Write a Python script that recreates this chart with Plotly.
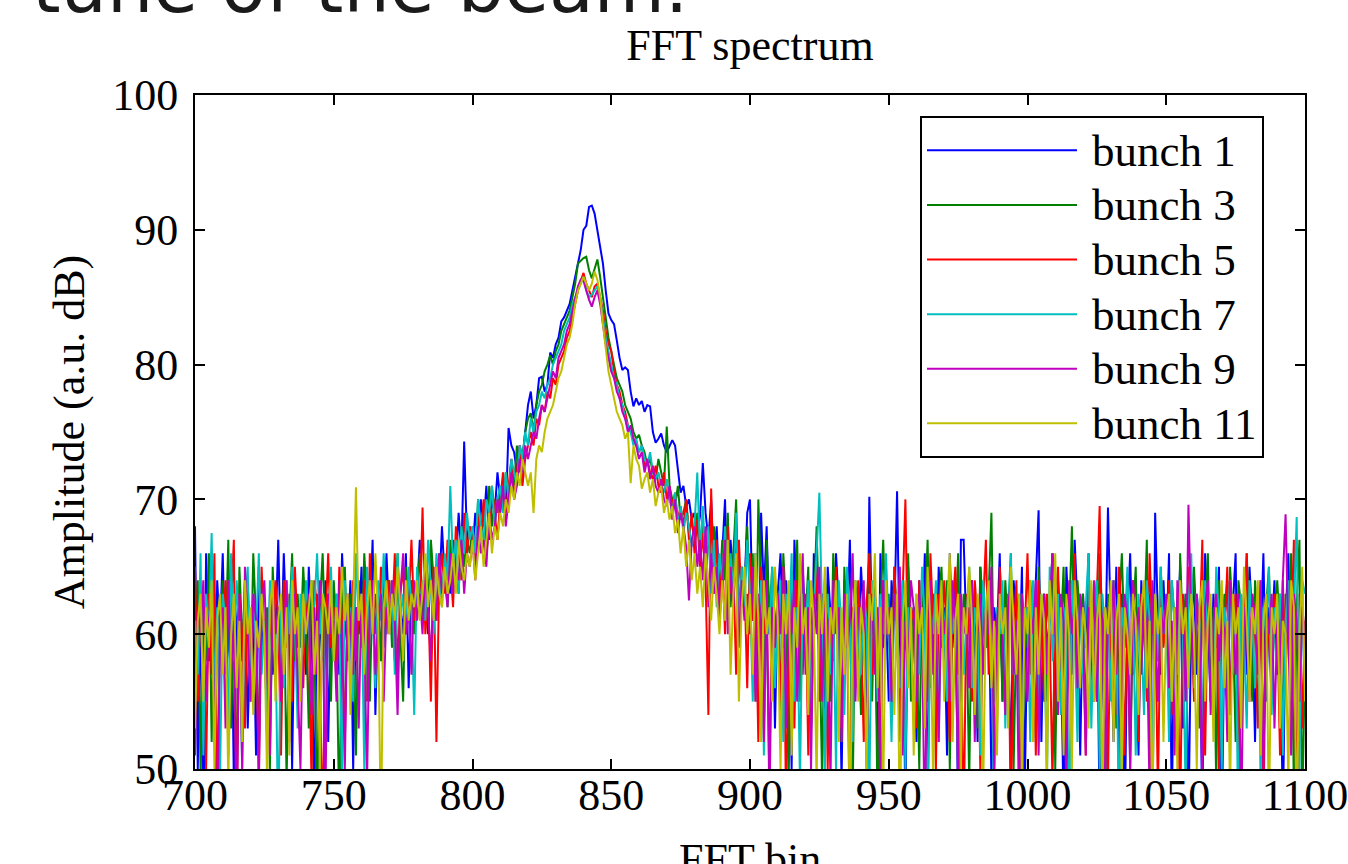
import plotly.graph_objects as go

BINS = list(range(700, 1101))
SERIES_NAMES = ["bunch 1", "bunch 3", "bunch 5", "bunch 7", "bunch 9", "bunch 11"]
COLORS = ["#0000ff", "#008000", "#ff0000", "#00bfbf", "#bf00bf", "#bfbf00"]
X_TICKS = [700, 750, 800, 850, 900, 950, 1000, 1050, 1100]
Y_TICKS = [50, 60, 70, 80, 90, 100]

BUNCH_1 = [
    68, 50, 62, 45, 66, 58, 63, 52, 64, 60,
    66, 57, 59, 65, 49, 61, 63, 58, 64, 53,
    60, 62, 51, 65, 59, 61, 52, 63, 57, 60,
    67, 58, 66, 60, 62, 50, 64, 59, 61, 63,
    57, 65, 60, 47, 63, 61, 58, 64, 52, 62,
    60, 63, 57, 66, 61, 59, 64, 50, 62, 60,
    65, 58, 63, 61, 67, 54, 62, 64, 59, 66,
    61, 63, 58, 65, 62, 60, 66, 56, 64, 62,
    63, 67, 61, 64, 60, 66, 62, 65, 63, 68,
    64, 66, 63, 67, 65, 69, 66, 74.3, 67, 68,
    66, 69, 67, 70, 68, 71, 67, 70, 69, 72,
    70, 71, 69, 75.3, 74, 73.5, 72, 74, 73, 75,
    77, 78, 76, 77, 79, 79.1, 78, 78.5, 80.9, 80.5,
    81.5, 82, 83.2, 83.5, 84, 84.5, 85.5, 86.5, 87.5, 88.5,
    90, 90.3, 91.7, 91.8, 91.2, 90, 88.5, 87.5, 85.5, 83.8,
    83.3, 83, 81.8, 80.5, 79.6, 79.8, 79.6, 78, 76.9, 77.5,
    77, 77.3, 76.5, 77, 76.9, 75, 74.2, 74.5, 74.9, 74,
    73.5, 74, 74.4, 74, 72, 70.5, 71, 69.5, 70, 68.5,
    69, 67.5, 68.8, 72.7, 69, 67, 70, 65, 68, 63,
    66, 70, 62, 67, 64, 68, 60, 65, 63, 69,
    70, 61, 66, 55, 69, 63, 68, 60, 64, 53,
    63, 66, 59, 64, 61, 50, 67, 62, 56, 65,
    60, 64, 53, 66, 62, 59, 63, 51, 65, 61,
    58, 66, 62, 49, 64, 60, 67, 55, 63, 59,
    65, 61, 52, 70.2, 60, 63, 50, 66, 59, 62,
    55, 64, 61, 70.6, 58, 63, 47, 65, 60, 62,
    52, 64, 59, 66, 48, 61, 63, 56, 65, 60,
    62, 51, 66, 59, 64, 46, 67, 67, 60, 62,
    57, 63, 52, 65, 61, 59, 64, 49, 62, 60,
    66, 55, 63, 60, 50, 64, 61, 57, 65, 48,
    62, 60, 56, 64, 69.2, 52, 63, 59, 61, 66,
    55, 64, 60, 47, 65, 61, 57, 67, 62, 51,
    63, 59, 66, 55, 61, 64, 46, 62, 58, 69.4,
    60, 52, 65, 48, 63, 45, 61, 66, 57, 62,
    51, 64, 60, 56, 63, 45, 69, 61, 57, 64,
    59, 66, 47, 62, 60, 65, 53, 63, 46, 61,
    64, 57, 62, 46, 66, 60, 55, 63, 59, 65,
    45, 61, 64, 54, 62, 66, 50, 60, 63, 57,
    65, 61, 52, 63, 59, 66, 55, 62, 60, 64,
    57, 63, 46, 61, 66, 52, 62, 45, 60, 63,
    55,
]

BUNCH_3 = [
    60, 64, 50, 62, 58, 66, 52, 63, 47, 61,
    64, 59, 67, 53, 62, 48, 65, 60, 58, 63,
    56, 66, 61, 51, 64, 59, 62, 50, 65, 60,
    62, 57, 64, 49, 61, 66, 58, 63, 59, 65,
    61, 53, 64, 60, 46, 62, 66, 59, 63, 55,
    64, 60, 46, 62, 65, 58, 63, 61, 51, 64,
    59, 66, 62, 55, 64, 60, 63, 58, 65, 61,
    64, 59, 62, 66, 60, 55, 65, 62, 64, 60,
    63, 66, 61, 65, 62, 67, 64, 61, 66, 63,
    65, 62, 67, 64, 66, 63, 68, 65, 67, 66,
    68, 65, 70, 67, 69, 66, 71, 68, 70, 69,
    71, 69, 72, 70, 73, 71, 74, 72, 73, 75,
    76, 76.4, 75, 77, 78, 78.5, 79.5, 80, 80.7, 80,
    81, 81.5, 82.5, 83, 83.5, 84, 85, 86, 87.5, 87.7,
    87.9, 88, 87, 86.4, 87.2, 87.8, 86.5, 85, 83.5, 82,
    81, 80, 79, 78.5, 78, 77, 76.5, 76, 75, 74.5,
    74.8, 74, 73.5, 72.5, 73, 72, 71.5, 73, 72, 71,
    75.4, 71, 70, 69.5, 71, 68.5, 69, 70, 67.5, 68.5,
    67, 69, 66, 68, 65, 67.5, 64, 68, 66, 63,
    67, 64, 69, 62, 66, 70, 61, 65, 63, 68,
    62, 66, 55, 70, 64, 53, 67, 61, 65, 60,
    63, 54, 66, 62, 50, 64, 60, 67, 55, 63,
    61, 65, 53, 62, 68, 60, 49, 64, 62, 55,
    66, 61, 63, 52, 65, 59, 62, 48, 64, 60,
    54, 63, 61, 66, 55, 64, 46, 62, 67, 60,
    63, 56, 65, 61, 52, 64, 60, 66, 55, 62,
    60, 50, 64, 61, 67, 56, 63, 52, 62, 65,
    59, 64, 50, 62, 60, 66, 55, 63, 61, 49,
    64, 60, 53, 65, 62, 59, 63, 69, 55, 61,
    62, 55, 64, 60, 66, 50, 61, 63, 46, 62,
    59, 64, 61, 52, 65, 60, 63, 55, 62, 66,
    50, 63, 60, 65, 54, 62, 68, 59, 64, 61,
    63, 53, 65, 60, 62, 55, 66, 61, 46, 63,
    60, 64, 53, 62, 66, 59, 63, 50, 61, 65,
    55, 62, 60, 67, 51, 63, 61, 58, 65, 60,
    62, 55, 64, 61, 52, 66, 60, 63, 56, 62,
    65, 60, 53, 63, 61, 66, 55, 62, 49, 64,
    60, 63, 54, 65, 61, 52, 64, 62, 58, 66,
    61, 55, 64, 60, 63, 50, 62, 65, 57, 61,
    64, 60, 53, 63, 61, 66, 48, 62, 67, 47,
    58,
]

BUNCH_5 = [
    65, 55, 62, 60, 50, 63, 57, 66, 45, 61,
    59, 64, 51, 62, 67, 45, 63, 60, 53, 64,
    58, 63, 61, 49, 65, 60, 54, 62, 59, 64,
    61, 51, 64, 59, 63, 55, 65, 60, 62, 56,
    63, 60, 49, 64, 62, 57, 45, 61, 66, 59,
    62, 56, 65, 61, 52, 63, 60, 64, 58, 62,
    60, 64, 55, 66, 61, 63, 59, 65, 62, 60,
    64, 61, 66, 57, 63, 65, 60, 62, 67, 61,
    64, 62, 69.4, 60, 63, 55, 65, 52, 64, 66,
    63, 67, 65, 62, 68, 66, 64, 69, 66, 68,
    67, 65, 69, 67, 70, 66, 68, 71, 69, 67,
    70, 72, 69, 71, 73, 70, 72, 74, 71, 73,
    74, 75, 74, 76, 75.5, 77, 76.5, 78, 77.5, 79,
    78.5, 80, 80.5, 81, 82, 82.5, 83.5, 84.5, 85.5, 86.2,
    86.8, 86, 85.5, 85, 85.8, 86, 85, 84, 82.5, 81.5,
    81, 79.5, 78.5, 78, 77, 76.5, 75.5, 75, 74.5, 74,
    73.5, 74, 72.5, 73, 72, 71.5, 72.5, 71, 70.5, 72,
    70, 71, 69.5, 70.5, 68.5, 69.5, 68, 70, 67, 69,
    66, 68.5, 65, 67.5, 64, 54, 70.8, 63, 67, 62,
    66, 60, 68, 63, 65, 57, 67, 62, 64, 56,
    66, 61, 63, 52, 65, 60, 62, 49, 64, 59,
    61, 55, 65, 47, 60, 63, 53, 64, 61, 57,
    63, 51, 62, 60, 66, 55, 61, 64, 50, 62,
    59, 65, 61, 53, 63, 60, 45, 62, 56, 64,
    60, 52, 62, 66, 57, 63, 61, 50, 64, 60,
    62, 55, 65, 60, 52, 63, 70, 57, 62, 61,
    53, 64, 60, 62, 55, 66, 61, 50, 63, 59,
    64, 60, 52, 62, 65, 57, 61, 45, 63, 60,
    55, 64, 61, 50, 62, 67, 57, 63, 60, 53,
    65, 61, 55, 63, 46, 60, 64, 52, 62, 60,
    66, 57, 62, 51, 64, 61, 55, 63, 60, 49,
    62, 65, 57, 61, 52, 63, 60, 66, 55, 62,
    60, 51, 64, 61, 55, 63, 69.5, 57, 62, 49,
    63, 60, 54, 65, 61, 51, 62, 57, 64, 60,
    52, 63, 61, 55, 66, 60, 62, 48, 63, 59,
    61, 64, 54, 62, 60, 46, 63, 57, 65, 61,
    55, 62, 60, 67, 51, 63, 61, 56, 64, 50,
    62, 60, 65, 54, 61, 63, 50, 62, 60, 66,
    57, 63, 61, 53, 64, 46, 62, 60, 55, 63,
    61, 51, 64, 57, 62, 60, 67, 45, 63, 53,
    61,
]

BUNCH_7 = [
    61, 57, 66, 51, 63, 60, 67.5, 55, 62, 49,
    63, 61, 53, 66, 58, 64, 60, 50, 62, 65,
    55, 63, 60, 66, 57, 61, 52, 64, 62, 60,
    45, 62, 56, 64, 60, 65, 61, 53, 63, 59,
    64, 61, 55, 62, 66, 60, 63, 51, 61, 65,
    58, 63, 61, 49, 64, 60, 62, 55, 66, 61,
    63, 50, 65, 60, 62, 56, 64, 61, 66, 60,
    62, 64, 57, 66, 61, 63, 60, 65, 62, 54,
    65, 62, 64, 61, 67, 63, 60, 66, 64, 62,
    66, 64, 71, 65, 67, 63, 68, 66, 69, 67,
    68, 66, 70, 68, 67, 70, 69, 71, 68, 70,
    71, 69, 72, 70, 73, 72, 71, 74, 73, 75,
    74, 76, 75, 76.5, 77, 78, 77.5, 78.5, 79, 80,
    80.5, 81, 81.5, 82.5, 83, 83.5, 84.5, 85, 85.5, 86,
    86.5, 85.5, 85, 85.2, 85.5, 85.8, 85, 83.5, 82, 81,
    80, 79, 78.5, 77.5, 77, 76, 75.5, 75, 74, 74.5,
    73.5, 74, 73, 72.5, 73.5, 72, 71.5, 72, 71, 70.5,
    71.5, 70, 69, 70.5, 68, 69.5, 67.5, 69, 68, 66.5,
    68, 72, 66, 69.5, 65, 68, 63, 67, 62, 66,
    64, 68, 61, 66, 63, 69, 60, 65, 62, 67,
    63, 55, 66, 61, 64, 51, 62, 60, 65, 56,
    61, 64, 52, 63, 60, 66, 55, 62, 49, 63,
    60, 64, 54, 62, 66, 70.5, 61, 50, 63, 57,
    62, 50, 64, 60, 54, 65, 61, 52, 63, 60,
    57, 63, 61, 48, 64, 62, 55, 63, 60, 66,
    60, 52, 63, 61, 56, 64, 50, 62, 60, 54,
    63, 57, 65, 61, 45, 62, 60, 64, 52, 63,
    61, 55, 64, 60, 62, 49, 63, 57, 61, 65,
    56, 62, 60, 51, 64, 61, 63, 57, 48, 62,
    60, 64, 53, 62, 66, 57, 61, 50, 63, 60,
    62, 52, 64, 60, 55, 63, 61, 49, 65, 58,
    61, 63, 54, 62, 60, 45, 64, 60, 52, 63,
    57, 62, 66, 53, 61, 64, 50, 63, 60, 62,
    55, 64, 61, 45, 62, 60, 65, 57, 62, 51,
    63, 60, 54, 64, 61, 50, 62, 58, 65, 60,
    62, 52, 64, 61, 57, 63, 60, 48, 62, 66,
    56, 63, 61, 51, 64, 60, 62, 54, 65, 61,
    50, 62, 60, 64, 57, 61, 45, 63, 60, 53,
    64, 61, 56, 63, 49, 62, 60, 65, 54, 62,
    60, 63, 51, 61, 64, 55, 62, 68.7, 50, 64,
    63,
]

BUNCH_9 = [
    51, 62, 60, 64, 55, 61, 63, 52, 45, 60,
    62, 53, 64, 57, 61, 45, 63, 50, 65, 60,
    55, 63, 61, 49, 62, 64, 57, 51, 63, 60,
    62, 55, 60, 64, 52, 61, 63, 57, 50, 62,
    60, 63, 54, 62, 57, 64, 61, 48, 63, 60,
    61, 55, 64, 60, 50, 63, 61, 57, 62, 53,
    63, 60, 49, 62, 64, 57, 61, 63, 55, 62,
    60, 64, 61, 54, 63, 66, 60, 62, 57, 64,
    61, 63, 60, 65, 62, 58, 64, 61, 66, 63,
    64, 62, 66, 63, 65, 64, 67, 63, 66, 65,
    67, 64, 68, 66, 67, 65, 69, 67, 68, 70,
    69, 71, 68, 70, 72, 70, 71, 73, 72, 74,
    73, 74, 75, 74.5, 76, 77, 76.5, 77.5, 78.5, 79.5,
    79, 80.5, 81, 81.5, 82.5, 83, 84, 85, 85.8, 86.3,
    86.2, 85.5, 84.8, 84.3, 85, 85.5, 84.5, 83, 81.5, 80.5,
    79.5, 79, 78, 77.5, 76.5, 76, 75, 75.5, 74.5, 74,
    73, 73.5, 72, 73, 71.5, 72.5, 71, 70.5, 71.5, 70,
    69.5, 71, 68.5, 70, 67.5, 69, 68, 66.5, 62.5, 67,
    68, 65, 67, 64, 68, 62, 66, 63, 65, 61,
    64, 67, 60, 65, 62, 66, 59, 64, 61, 63,
    60, 65, 55, 63, 61, 52, 64, 47, 62, 59,
    63, 60, 65, 53, 62, 60, 64, 55, 61, 66,
    57, 62, 50, 63, 60, 65, 55, 62, 61, 49,
    64, 60, 62, 52, 63, 59, 61, 66, 55, 62,
    60, 64, 50, 61, 63, 57, 62, 48, 64, 60,
    62, 55, 63, 60, 65, 51, 61, 57, 64, 62,
    55, 63, 60, 45, 62, 64, 57, 61, 52, 63,
    60, 62, 55, 64, 61, 49, 63, 60, 62, 56,
    64, 52, 61, 63, 57, 62, 60, 65, 50, 61,
    63, 60, 54, 62, 64, 57, 61, 46, 63, 60,
    55, 62, 60, 64, 51, 61, 63, 57, 62, 66,
    60, 54, 63, 61, 48, 64, 60, 62, 56, 63,
    61, 51, 62, 60, 64, 55, 63, 61, 49, 62,
    60, 64, 57, 62, 52, 63, 61, 50, 64, 60,
    62, 57, 63, 60, 48, 64, 61, 55, 62, 60,
    63, 56, 61, 51, 64, 60, 62, 55, 69.6, 61,
    57, 63, 60, 49, 62, 64, 54, 61, 63, 58,
    62, 60, 52, 64, 61, 57, 63, 45, 62, 60,
    55, 63, 61, 57, 64, 50, 62, 60, 63, 53,
    61, 57, 64, 68.9, 60, 51, 63, 61, 55, 62,
    60,
]

BUNCH_11 = [
    53, 61, 63, 55, 62, 59, 64, 50, 61, 63,
    57, 62, 49, 60, 63, 56, 61, 52, 64, 60,
    62, 54, 61, 59, 63, 60, 49, 62, 64, 55,
    61, 63, 57, 62, 51, 64, 60, 62, 55, 63,
    60, 62, 64, 57, 61, 50, 63, 62, 60, 64,
    58, 62, 60, 65, 61, 63, 54, 62, 70.9, 61,
    63, 57, 62, 64, 60, 66, 61, 45, 62, 64,
    60, 63, 61, 65, 62, 58, 64, 61, 63, 62,
    64, 61, 63, 66, 62, 64, 61, 65, 63, 62,
    65, 63, 64, 66, 63, 67, 65, 64, 66, 65,
    67, 64, 66, 68, 65, 67, 69, 66, 68, 67,
    69, 68, 70, 69, 71, 70, 72, 71, 73, 72,
    71, 72, 69, 73, 74, 73.5, 75, 76, 76.5, 77,
    78, 79, 79.5, 80.5, 81.5, 82, 83, 84.5, 85.5, 86,
    86.5, 86, 85.5, 86, 86.9, 86.3, 85, 83, 81, 79.5,
    78.5, 77.5, 76.5, 76, 75.5, 74.5, 75, 71.2, 74, 73,
    72.5, 70.8, 71.5, 72, 70.5, 71.5, 69.5, 70.5, 71, 69,
    70, 68.5, 69.5, 67.5, 68.5, 66, 68, 65, 67, 64,
    66, 63, 65, 62, 66, 64, 61, 65, 63, 60,
    64, 61, 67, 57, 63, 66, 55, 62, 65, 60,
    63, 57, 66, 61, 52, 64, 60, 62, 55, 65,
    61, 50, 63, 60, 64, 51, 62, 59, 66, 60,
    62, 54, 64, 61, 49, 63, 60, 65, 55, 62,
    60, 64, 52, 62, 57, 63, 45, 61, 64, 55,
    62, 60, 50, 63, 61, 66, 56, 62, 48, 64,
    60, 62, 54, 63, 45, 61, 64, 56, 62, 51,
    63, 60, 62, 53, 65, 61, 49, 63, 60, 64,
    55, 62, 66, 52, 61, 63, 50, 62, 60, 65,
    61, 54, 63, 60, 48, 62, 64, 56, 61, 51,
    63, 60, 62, 53, 65, 61, 57, 63, 49, 62,
    60, 64, 52, 62, 57, 63, 61, 49, 64, 60,
    66, 55, 62, 51, 63, 60, 50, 64, 61, 56,
    62, 60, 53, 64, 55, 61, 63, 47, 62, 60,
    64, 52, 61, 63, 49, 62, 60, 57, 63, 61,
    54, 62, 64, 56, 61, 46, 63, 60, 62, 52,
    61, 63, 55, 62, 50, 64, 60, 62, 56, 63,
    60, 50, 62, 64, 55, 61, 63, 52, 62, 60,
    64, 56, 61, 48, 63, 60, 62, 53, 65, 61,
    55, 62, 60, 64, 51, 61, 63, 46, 62, 60,
    63, 53, 61, 60, 49, 64, 62, 45, 60, 65,
    55,
]

ALL_SERIES = [BUNCH_1, BUNCH_3, BUNCH_5, BUNCH_7, BUNCH_9, BUNCH_11]

fig = go.Figure()
for name, color, vals in zip(SERIES_NAMES, COLORS, ALL_SERIES):
    fig.add_trace(go.Scatter(
        x=BINS[:len(vals)], y=vals, mode="lines",
        name="\u00a0<span style='font-size:45px'>" + name + "</span>",
        line=dict(color=color, width=2),
    ))

SERIF = "Liberation Serif, Times New Roman, serif"
axis_common = dict(
    showline=True, linecolor="black", linewidth=2, mirror="ticks",
    ticks="inside", ticklen=10, tickwidth=1.5, tickcolor="black",
    showgrid=False, zeroline=False, ticklabeloverflow="allow",
    tickfont=dict(family=SERIF, size=44, color="black"),
)

PLOT_L, PLOT_R, PLOT_T, PLOT_B = 195, 1305, 95, 769
W, H = 1348, 864
PW, PH = PLOT_R - PLOT_L, PLOT_B - PLOT_T

fig.update_layout(
    width=W, height=H,
    margin=dict(l=PLOT_L, r=W - PLOT_R, t=PLOT_T, b=H - PLOT_B),
    paper_bgcolor="white", plot_bgcolor="white",
    font=dict(family=SERIF, size=44, color="black"),
    title=dict(text="FFT spectrum", x=0.5, xref="paper", xanchor="center",
               y=1 - 45 / H, yref="container", yanchor="middle",
               font=dict(family=SERIF, size=44, color="black")),
    xaxis=dict(range=[700, 1100], tickvals=X_TICKS, ticklabelstandoff=-14,
               automargin=False, **axis_common),
    yaxis=dict(range=[50, 100], tickvals=Y_TICKS, ticklabelstandoff=6,
               title=dict(text="Amplitude (a.u. dB)", standoff=14,
                          font=dict(family=SERIF, size=44, color="black")),
               automargin=False, **axis_common),
    legend=dict(x=(920 - PLOT_L) / PW, y=1 - (116 - PLOT_T) / PH,
                xanchor="left", yanchor="top",
                bgcolor="white", bordercolor="black", borderwidth=2,
                font=dict(family=SERIF, size=39.7, color="black"),
                itemwidth=150, tracegroupgap=0, traceorder="normal"),
    showlegend=True,
    annotations=[
        dict(text="tune of the beam.", xref="paper", yref="paper",
             x=(30 - PLOT_L) / PW, y=1 + (PLOT_T - 31) / PH,
             xanchor="left", yanchor="bottom", showarrow=False,
             font=dict(family="DejaVu Sans", size=73, color="#1a1a1a")),
        dict(text="FFT bin", xref="paper", yref="paper",
             x=0.5, y=-(833 - PLOT_B) / PH,
             xanchor="center", yanchor="top", showarrow=False,
             font=dict(family=SERIF, size=44, color="black")),
    ],
)

fig.write_html("out.html", config={"displayModeBar": False},
               post_script="document.body.style.margin='0';")
